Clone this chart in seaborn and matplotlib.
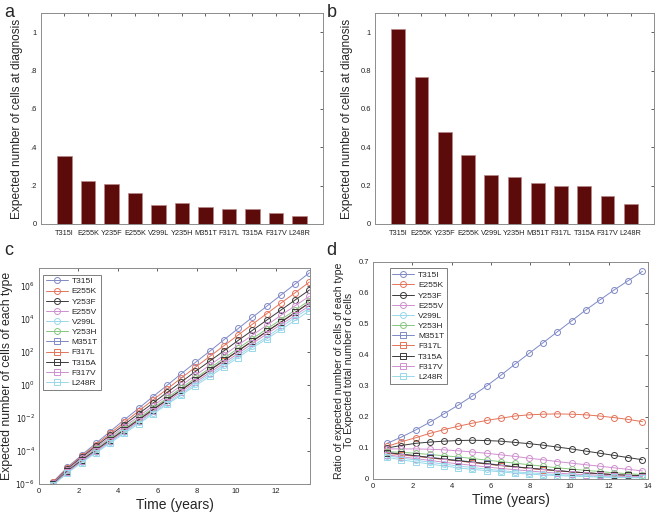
import numpy as np
import pandas as pd
import matplotlib
matplotlib.use("Agg")
import matplotlib.pyplot as plt
import seaborn as sns
from matplotlib.ticker import FixedLocator, FuncFormatter

sns.set_style("white")
plt.rcParams['font.family'] = ['Liberation Sans', 'DejaVu Sans']

# ---------------- data ----------------
bar_labels = ["T315I", "E255K", "Y235F", "E255K", "V299L", "Y235H",
              "M351T", "F317L", "T315A", "F317V", "L248R"]
bars_a = [0.356, 0.224, 0.208, 0.161, 0.099, 0.109, 0.087, 0.076, 0.080, 0.057, 0.042]
bars_b = [1.016, 0.767, 0.479, 0.361, 0.255, 0.247, 0.212, 0.198, 0.196, 0.146, 0.106]

series_names = ["T315I", "E255K", "Y253F", "E255V", "V299L", "Y253H",
                "M351T", "F317L", "T315A", "F317V", "L248R"]

time_years = [0.72, 1.44, 2.17, 2.89, 3.61, 4.33, 5.06, 5.78, 6.50, 7.22,
              7.94, 8.67, 9.39, 10.11, 10.83, 11.56, 12.28, 13.00, 13.72]

# panel c: log10 of expected number of cells of each type
log_cells = {
    "T315I": [-5.86, -4.99, -4.24, -3.53, -2.82, -2.11, -1.41, -0.71, -0.02, 0.68, 1.37, 2.05, 2.74, 3.42, 4.10, 4.77, 5.45, 6.12, 6.79],
    "E255K": [-5.90, -5.04, -4.32, -3.62, -2.94, -2.26, -1.58, -0.91, -0.25, 0.42, 1.08, 1.73, 2.38, 3.03, 3.68, 4.32, 4.96, 5.59, 6.23],
    "Y253F": [-5.92, -5.09, -4.38, -3.71, -3.05, -2.40, -1.74, -1.10, -0.45, 0.18, 0.82, 1.45, 2.07, 2.70, 3.31, 3.93, 4.54, 5.15, 5.75],
    "E255V": [-5.93, -5.13, -4.45, -3.81, -3.17, -2.53, -1.90, -1.27, -0.65, -0.03, 0.59, 1.20, 1.81, 2.42, 3.02, 3.62, 4.22, 4.80, 5.37],
    "V299L": [-6.04, -5.29, -4.65, -4.06, -3.46, -2.87, -2.27, -1.68, -1.11, -0.53, 0.06, 0.64, 1.21, 1.79, 2.36, 2.91, 3.51, 4.09, 4.66],
    "Y253H": [-5.98, -5.19, -4.52, -3.89, -3.26, -2.64, -2.02, -1.40, -0.79, -0.18, 0.42, 1.02, 1.62, 2.22, 2.81, 3.39, 3.96, 4.54, 5.11],
    "M351T": [-5.99, -5.22, -4.56, -3.94, -3.33, -2.71, -2.10, -1.49, -0.89, -0.29, 0.30, 0.90, 1.49, 2.07, 2.66, 3.24, 3.81, 4.39, 4.96],
    "F317L": [-6.00, -5.23, -4.58, -3.96, -3.34, -2.73, -2.12, -1.51, -0.91, -0.30, 0.29, 0.89, 1.47, 2.07, 2.66, 3.24, 3.81, 4.39, 4.96],
    "T315A": [-5.99, -5.22, -4.56, -3.95, -3.33, -2.72, -2.11, -1.50, -0.90, -0.30, 0.30, 0.90, 1.49, 2.07, 2.66, 3.24, 3.81, 4.39, 4.98],
    "F317V": [-6.03, -5.26, -4.62, -4.01, -3.41, -2.80, -2.20, -1.60, -1.01, -0.41, 0.17, 0.75, 1.34, 1.91, 2.51, 3.09, 3.66, 4.21, 4.81],
    "L248R": [-6.07, -5.33, -4.70, -4.11, -3.52, -2.93, -2.35, -1.76, -1.18, -0.61, -0.04, 0.52, 1.10, 1.66, 2.26, 2.79, 3.36, 3.91, 4.50],
}

# panel d: ratio of expected number of cells of each type to total
ratios = {
    "T315I": [0.115, 0.135, 0.158, 0.183, 0.210, 0.238, 0.268, 0.300, 0.334, 0.370, 0.405, 0.440, 0.475, 0.510, 0.545, 0.578, 0.610, 0.640, 0.670],
    "E255K": [0.105, 0.120, 0.133, 0.147, 0.159, 0.170, 0.180, 0.189, 0.196, 0.203, 0.207, 0.209, 0.210, 0.209, 0.207, 0.203, 0.198, 0.192, 0.185],
    "Y253F": [0.100, 0.108, 0.115, 0.119, 0.122, 0.124, 0.125, 0.124, 0.122, 0.118, 0.114, 0.109, 0.103, 0.097, 0.090, 0.083, 0.076, 0.069, 0.062],
    "E255V": [0.097, 0.097, 0.097, 0.096, 0.094, 0.091, 0.087, 0.083, 0.078, 0.073, 0.067, 0.062, 0.056, 0.051, 0.046, 0.041, 0.036, 0.031, 0.026],
    "V299L": [0.075, 0.068, 0.061, 0.054, 0.048, 0.042, 0.037, 0.032, 0.027, 0.023, 0.020, 0.017, 0.014, 0.012, 0.010, 0.008, 0.007, 0.006, 0.005],
    "Y253H": [0.088, 0.086, 0.083, 0.079, 0.075, 0.071, 0.066, 0.061, 0.056, 0.051, 0.046, 0.041, 0.036, 0.032, 0.028, 0.024, 0.020, 0.017, 0.014],
    "M351T": [0.085, 0.080, 0.075, 0.070, 0.065, 0.060, 0.055, 0.050, 0.045, 0.040, 0.035, 0.031, 0.027, 0.023, 0.020, 0.017, 0.014, 0.012, 0.010],
    "F317L": [0.083, 0.078, 0.073, 0.068, 0.063, 0.058, 0.053, 0.048, 0.043, 0.039, 0.034, 0.030, 0.026, 0.023, 0.020, 0.017, 0.014, 0.012, 0.010],
    "T315A": [0.085, 0.080, 0.075, 0.069, 0.064, 0.059, 0.054, 0.049, 0.044, 0.039, 0.035, 0.031, 0.027, 0.023, 0.020, 0.017, 0.014, 0.012, 0.011],
    "F317V": [0.078, 0.072, 0.066, 0.060, 0.054, 0.049, 0.044, 0.039, 0.034, 0.030, 0.026, 0.022, 0.019, 0.016, 0.014, 0.012, 0.010, 0.008, 0.007],
    "L248R": [0.070, 0.062, 0.055, 0.048, 0.042, 0.036, 0.031, 0.027, 0.023, 0.019, 0.016, 0.013, 0.011, 0.009, 0.008, 0.006, 0.005, 0.004, 0.0035],
}

# ---------------- styles ----------------
line_colors = ["#7f89c6", "#e5735a", "#3a3a3a", "#cf8fcf", "#98d8ea", "#86c77f",
               "#7f89c6", "#e5735a", "#3a3a3a", "#cf8fcf", "#98d8ea"]
line_markers = ["o"] * 6 + ["s"] * 5
bar_color = "#5c0a0a"
spine_color = "#8c8c8c"

fig = plt.figure(figsize=(6.61, 5.13), dpi=100)
ax_a = fig.add_axes([0.062, 0.5634, 0.4266, 0.4113])
ax_b = fig.add_axes([0.5673, 0.5634, 0.4221, 0.4113])
ax_c = fig.add_axes([0.059, 0.0565, 0.410, 0.421])
ax_d = fig.add_axes([0.5643, 0.0663, 0.416, 0.423])


def style_axes(ax):
    for s in ax.spines.values():
        s.set_color(spine_color)
        s.set_linewidth(0.7)
    ax.tick_params(direction="in", top=True, right=True, length=2.5, width=0.5,
                   colors="#222222", labelsize=5.5, pad=3)


def bar_panel(ax, vals, fmt_short):
    pos = np.arange(1, len(vals) + 1)
    df = pd.DataFrame({"pos": pos, "val": vals})
    sns.barplot(data=df, x="pos", y="val", ax=ax, native_scale=True, width=0.6,
                color=bar_color, saturation=1, edgecolor="#b98888", linewidth=0.5)
    ax.set_xlim(0, len(vals) + 1)
    ax.set_ylim(0, 1.1)
    ax.set_xticks(pos)
    ax.set_xticklabels(bar_labels)
    yt = [0, 0.2, 0.4, 0.6, 0.8, 1.0]
    ax.set_yticks(yt)
    if fmt_short:
        ax.set_yticklabels(["0", ".2", ".4", ".6", ".8", "1"])
    else:
        ax.set_yticklabels(["0", "0.2", "0.4", "0.6", "0.8", "1"])
    ax.set_xlabel("")
    ax.set_ylabel("Expected number of cells at diagnosis", fontsize=8.6, labelpad=5)
    style_axes(ax)
    ax.tick_params(axis="x", labelsize=5.3, pad=4)


bar_panel(ax_a, bars_a, True)
bar_panel(ax_b, bars_b, False)

leg_kw = dict(fontsize=6, frameon=True, fancybox=False, edgecolor="#444444",
              handlelength=2.6, handletextpad=0.5, labelspacing=0.28,
              borderpad=0.35, borderaxespad=0.0)

# panel c
for name, col, mk in zip(series_names, line_colors, line_markers):
    vals = [10 ** v for v in log_cells[name]]
    sns.lineplot(x=time_years, y=vals, ax=ax_c, color=col, marker=mk,
                 markerfacecolor="none", markeredgecolor=col, markersize=4.3,
                 markeredgewidth=0.7, linewidth=0.7, label=name)
ax_c.set_yscale("log")
ax_c.set_xlim(0, 13.75)
ax_c.set_ylim(1e-6, 1.2e7)
ax_c.set_xticks([0, 2, 4, 6, 8, 10, 12])
ax_c.yaxis.set_major_locator(FixedLocator([1e-6, 1e-4, 1e-2, 1e0, 1e2, 1e4, 1e6]))
ax_c.yaxis.set_minor_locator(FixedLocator([]))
ax_c.yaxis.set_major_formatter(FuncFormatter(lambda v, p: r"$10^{%d}$" % int(round(np.log10(v)))))
ax_c.set_xlabel("Time (years)", fontsize=10, labelpad=2)
ax_c.set_ylabel("Expected number of cells of each type", fontsize=8.8, labelpad=2)
style_axes(ax_c)
leg = ax_c.legend(loc="upper left", bbox_to_anchor=(0.015, 0.97), **leg_kw)
leg.get_frame().set_linewidth(0.6)

# panel d
for name, col, mk in zip(series_names, line_colors, line_markers):
    sns.lineplot(x=time_years, y=ratios[name], ax=ax_d, color=col, marker=mk,
                 markerfacecolor="none", markeredgecolor=col, markersize=4.3,
                 markeredgewidth=0.7, linewidth=0.7, label=name)
ax_d.set_xlim(0, 14)
ax_d.set_ylim(0, 0.7)
ax_d.set_xticks([0, 2, 4, 6, 8, 10, 12, 14])
ax_d.set_yticks([0, 0.1, 0.2, 0.3, 0.4, 0.5, 0.6, 0.7])
ax_d.set_yticklabels(["0", "0.1", "0.2", "0.3", "0.4", "0.5", "0.6", "0.7"])
ax_d.set_xlabel("Time (years)", fontsize=10, labelpad=2)
ax_d.set_ylabel("Ratio of expected number of cells of each type\nTo Expected total number of cells",
                fontsize=7.6, labelpad=3, linespacing=1.0)
style_axes(ax_d)
leg = ax_d.legend(loc="upper left", bbox_to_anchor=(0.06, 0.97), **leg_kw)
leg.get_frame().set_linewidth(0.6)

# panel letters
fig.text(0.006, 0.993, "a", fontsize=13, va="top", ha="left")
fig.text(0.494, 0.993, "b", fontsize=13, va="top", ha="left")
fig.text(0.006, 0.528, "c", fontsize=13, va="top", ha="left")
fig.text(0.494, 0.528, "d", fontsize=13, va="top", ha="left")

fig.savefig("out.png", dpi=100)
